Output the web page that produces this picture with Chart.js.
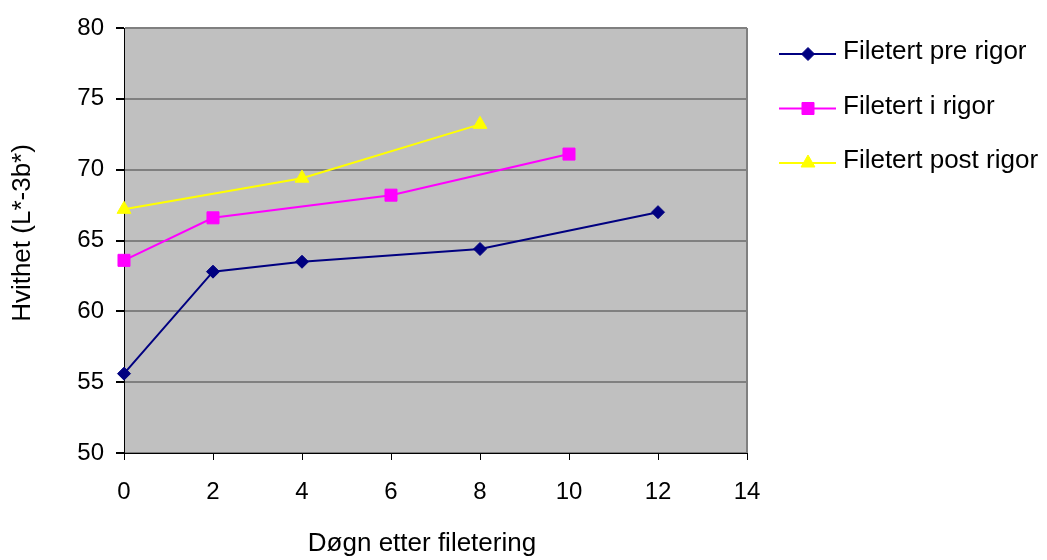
<!DOCTYPE html>
<html>
<head>
<meta charset="utf-8">
<script src="https://cdn.jsdelivr.net/npm/chart.js@4"></script>
<style>
  html, body { margin: 0; padding: 0; background: #fff; }
  #wrap { width: 1047px; height: 560px; }
</style>
</head>
<body>
<div id="wrap"><canvas id="chart" width="1047" height="560"></canvas></div>
<script>
// data
const seriesNames = ['Filetert pre rigor', 'Filetert i rigor', 'Filetert post rigor'];
const preDays = [0, 2, 4, 8, 12];
const preValues = [55.6, 62.8, 63.5, 64.4, 67.0];
const iDays = [0, 2, 6, 10];
const iValues = [63.6, 66.6, 68.2, 71.1];
const postDays = [0, 4, 8];
const postValues = [67.2, 69.4, 73.2];
const xTicks = [0, 2, 4, 6, 8, 10, 12, 14];
const yTicks = [50, 55, 60, 65, 70, 75, 80];
const xTitle = 'Døgn etter filetering';
const yTitle = 'Hvithet (L*-3b*)';

const FONT = 'Liberation Sans, Arial, sans-serif';

function toPoints(xs, ys) {
    return xs.map((x, i) => ({ x: x, y: ys[i] }));
}

// grey plot background + grey frame on the right, like the old spreadsheet chart
const plotBackground = {
    id: 'plotBackground',
    beforeDraw(chart) {
        const { ctx, chartArea: a } = chart;
        ctx.save();
        ctx.fillStyle = '#c0c0c0';
        ctx.fillRect(a.left, a.top, a.right - a.left, a.bottom - a.top);
        ctx.restore();
    },
    beforeDatasetsDraw(chart) {
        const { ctx, chartArea: a } = chart;
        ctx.save();
        ctx.strokeStyle = '#808080';
        ctx.lineWidth = 2;
        ctx.beginPath();
        ctx.moveTo(a.right, a.top);
        ctx.lineTo(a.right, a.bottom);
        ctx.stroke();
        ctx.restore();
    }
};

// axis titles, placed where the reference has them
const axisTitles = {
    id: 'axisTitles',
    afterDraw(chart) {
        const ctx = chart.ctx;
        ctx.save();
        ctx.fillStyle = '#000';
        ctx.font = '26px ' + FONT;
        ctx.textAlign = 'center';
        ctx.textBaseline = 'middle';
        ctx.fillText(xTitle, 422, 544);
        ctx.translate(23, 233);
        ctx.rotate(-Math.PI / 2);
        ctx.fillText(yTitle, 0, 0);
        ctx.restore();
    }
};

// legend on the right: line with marker, then label
const sideLegend = {
    id: 'sideLegend',
    afterDraw(chart) {
        const ctx = chart.ctx;
        ctx.save();
        chart.data.datasets.forEach((ds, i) => {
            const y = 54 + i * 54.5;
            ctx.strokeStyle = ds.borderColor;
            ctx.lineWidth = 2;
            ctx.beginPath();
            ctx.moveTo(779, y);
            ctx.lineTo(836, y);
            ctx.stroke();
            ctx.fillStyle = ds.pointBackgroundColor;
            ctx.strokeStyle = ds.pointBorderColor;
            ctx.lineWidth = 1;
            Chart.helpers.drawPoint(ctx, {
                pointStyle: ds.pointStyle,
                radius: ds.pointRadius,
                borderWidth: 1
            }, 808, y);
            ctx.fillStyle = '#000';
            ctx.font = '26px ' + FONT;
            ctx.textBaseline = 'middle';
            ctx.textAlign = 'left';
            ctx.fillText(ds.label, 843, y - 2);
        });
        ctx.restore();
    }
};

function makeSet(label, xs, ys, color, style, radius) {
    return {
        label: label,
        data: toPoints(xs, ys),
        borderColor: color,
        backgroundColor: color,
        pointBackgroundColor: color,
        pointBorderColor: color,
        pointStyle: style,
        pointRadius: radius,
        pointBorderWidth: 1,
        borderWidth: 2,
        tension: 0,
        clip: false
    };
}

new Chart(document.getElementById('chart'), {
    type: 'line',
    data: {
        datasets: [
            makeSet(seriesNames[0], preDays, preValues, '#000080', 'rectRot', 6.5),
            makeSet(seriesNames[1], iDays, iValues, '#ff00ff', 'rect', 8.5),
            makeSet(seriesNames[2], postDays, postValues, '#ffff00', 'triangle', 8)
        ]
    },
    options: {
        responsive: false,
        animation: false,
        layout: { padding: { top: 28, right: 300, left: 0, bottom: 0 } },
        plugins: {
            legend: { display: false },
            tooltip: { enabled: false }
        },
        scales: {
            x: {
                type: 'linear',
                min: 0,
                max: 14,
                afterBuildTicks: scale => { scale.ticks = xTicks.map(v => ({ value: v })); },
                afterFit: scale => { scale.height = 107; },
                grid: { display: true, drawOnChartArea: false, color: '#000', tickLength: 7 },
                border: { color: '#000', width: 1 },
                ticks: { color: '#000', font: { family: FONT, size: 24 }, padding: 18, maxRotation: 0 },
                title: { display: false }
            },
            y: {
                min: 50,
                max: 80,
                afterBuildTicks: scale => { scale.ticks = yTicks.map(v => ({ value: v })); },
                afterFit: scale => { scale.width = 124; },
                grid: { color: '#808080', lineWidth: 2, tickColor: '#000', tickLength: 8 },
                border: { color: '#000', width: 1 },
                ticks: { color: '#000', font: { family: FONT, size: 24 }, padding: 12 },
                title: { display: false }
            }
        }
    },
    plugins: [plotBackground, axisTitles, sideLegend]
});
</script>
</body>
</html>
